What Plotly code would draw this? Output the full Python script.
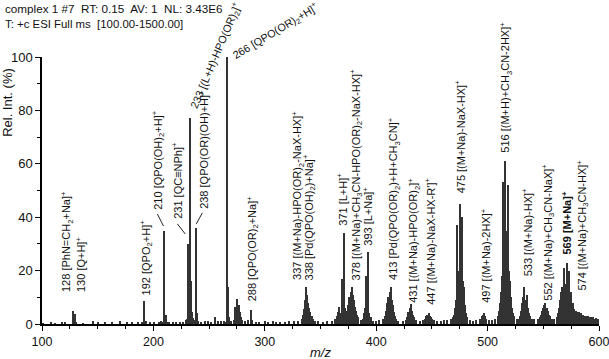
import plotly.graph_objects as go

# ---------------- data ----------------
mz = [101, 108, 112, 118, 121, 128, 129, 130, 131, 137, 146, 150, 157, 163, 170, 176, 181, 186, 190,
      192, 193, 197, 201, 205, 207, 208, 210, 211, 212, 214, 218, 220, 224, 227, 229, 230,
      231, 232, 233, 234, 235, 236, 237, 238, 239, 240, 243, 246, 249, 252, 255, 258, 261, 263, 264,
      266, 267, 268, 270, 272, 273, 274, 275, 276, 277, 278, 279, 280, 282, 285, 288, 289, 292, 295,
      300, 303, 307, 310, 314, 318, 322, 326, 330, 333, 334, 335, 336, 337, 338, 339, 340, 341, 342,
      343, 345, 348, 352, 356, 360, 363, 365, 366, 367, 368, 369, 370, 371, 372, 373, 374, 375, 376,
      377, 378, 379, 380, 381, 382, 383, 384, 386, 388, 389, 390, 391, 392, 393, 394, 395, 397, 400,
      403, 406, 408, 409, 410, 411, 412, 413, 414, 415, 416, 417, 418, 420, 424, 427, 428, 429, 430,
      431, 432, 433, 434, 436, 439, 442, 444, 445, 446, 447, 448, 449, 450, 452, 455, 458, 461, 464,
      467, 469, 470, 471, 472, 473, 474, 475, 476, 477, 478, 479, 480, 481, 482, 484, 487, 490, 493,
      495, 496, 497, 498, 499, 501, 504, 507, 509, 510, 511, 512, 513, 514, 515, 516, 517, 518, 519,
      520, 521, 522, 523, 524, 526, 528, 529, 530, 531, 532, 533, 534, 535, 536, 537, 538, 540, 542,
      545, 547, 548, 549, 550, 551, 552, 553, 554, 555, 556, 558, 560, 562, 563, 564, 565, 566, 567,
      568, 569, 570, 571, 572, 573, 574, 575, 576, 577, 578, 579, 580, 581, 582, 583, 584, 585, 586,
      587, 588, 589, 590, 591, 592, 593, 594, 595, 596, 597, 598, 599]
intensity = [0.3, 0.4, 0.3, 0.5, 0.4, 5.0, 1.0, 3.8, 0.8, 0.3, 1.3, 0.4, 0.4, 0.5, 1.1, 0.4, 0.5, 0.4, 0.6,
             8.7, 1.0, 0.5, 0.7, 0.8, 1.0, 0.8, 35, 3.5, 0.8, 0.7, 0.9, 0.8, 0.6, 0.9, 1.5, 2.0,
             30, 9, 77, 16, 4.5, 2.2, 1.5, 36, 4, 1.0, 0.9, 1.0, 1.1, 0.9, 2.7, 1.2, 1.3, 1.1, 0.9,
             100, 14, 2.5, 1.2, 1.5, 6.2, 5.5, 9.2, 6.5, 7.0, 4.5, 2.5, 1.6, 1.3, 1.5, 5.2, 1.5, 0.8, 0.9,
             1.0, 0.8, 1.1, 0.9, 0.8, 0.9, 1.0, 1.1, 1.2, 1.8, 3.5, 5.8, 9, 14, 11, 8, 6, 4.5, 3,
             2, 1.2, 1.0, 0.9, 1.1, 1.2, 2.0, 3.0, 4.5, 6.5, 4, 17, 9, 34, 6, 3.5, 5, 7, 10,
             12, 14, 11, 9, 6.5, 5, 3.5, 2.5, 1.5, 2, 4, 6, 18, 5, 27, 4, 2.5, 1.2, 1.0,
             1.4, 2, 3, 5, 8, 10, 12, 14, 9, 7, 4.5, 3, 2, 1.2, 1.0, 1.5, 2.5, 4.5, 6,
             7.5, 5, 3.5, 2.5, 1.5, 1.2, 1.4, 2, 3, 3.5, 4, 3, 2.5, 2, 1.5, 1.2, 1.3, 1.5, 1.5,
             2, 2.5, 3.5, 6, 9, 37, 20, 45, 25, 40, 16, 14, 7, 4, 2.5, 1.5, 1.3, 1.5, 2,
             3, 3.5, 4, 3, 2, 1.5, 1.5, 2, 3, 5, 8, 12, 18, 53, 30, 61, 35, 52, 20,
             16, 10, 6, 4, 3, 2, 2, 3, 5, 8, 10, 14, 9, 11, 6, 4, 3, 2, 1.8,
             2, 2.5, 3.5, 5, 6, 7, 8, 6, 5, 3.5, 3, 2, 2, 2.5, 4, 6, 9, 12, 14,
             11, 21, 15, 23, 14, 20, 11, 12, 7, 8, 5.5, 5, 4.5, 4, 4.5, 3.5, 4, 3, 3.5,
             3, 3, 2.5, 3, 2.5, 2.8, 2.5, 2.2, 2.5, 2, 2.2, 1.8, 2]

x_ticks = [100, 200, 300, 400, 500, 600]
y_ticks = [0, 20, 40, 60, 80, 100]

# peak labels: text, m/z position of text column, intensity at text start
label_texts = [
    "128 [PhN=CH<sub>2</sub>+Na]<sup>+</sup>",
    "130 [Q+H]<sup>+</sup>",
    "192 [QPO<sub>2</sub>+H]<sup>+</sup>",
    "210 [QPO(OH)<sub>2</sub>+H]<sup>+</sup>",
    "231 [QC\u2261NPh]<sup>+</sup>",
    "238 [QPO(OR)(OH)+H]<sup>+</sup>",
    "288 [QPO(OR)<sub>2</sub>+Na]<sup>+</sup>",
    "337 [(M+Na)-HPO(OR)<sub>2</sub>-NaX-HX]<sup>+</sup>",
    "338 [Pd(QPO(OH)<sub>2</sub>)+Na]<sup>+</sup>",
    "371 [L+H]<sup>+</sup>",
    "378 [(M+Na)+CH<sub>3</sub>CN-HPO(OR)<sub>2</sub>-NaX-HX]<sup>+</sup>",
    "393 [L+Na]<sup>+</sup>",
    "413 [Pd(QPO(OR)<sub>2</sub>)+H+CH<sub>3</sub>CN]<sup>+</sup>",
    "431 [(M+Na)-HPO(OR)<sub>2</sub>]<sup>+</sup>",
    "447 [(M+Na)-NaX-HX-R']<sup>+</sup>",
    "475 [(M+Na)-NaX-HX]<sup>+</sup>",
    "497 [(M+Na)-2HX]<sup>+</sup>",
    "516 [(M+H)+CH<sub>3</sub>CN-2HX]<sup>+</sup>",
    "533 [(M+Na)-HX]<sup>+</sup>",
    "552 [(M+Na)+CH<sub>3</sub>CN-NaX]<sup>+</sup>",
    "<b>569 [M+Na]<sup>+</sup></b>",
    "574 [(M+Na)+CH<sub>3</sub>CN-HX]<sup>+</sup>",
]
label_x = [121.9, 134.5, 193.7, 204.5, 221.5, 244.8, 288.9, 329.2, 340.0, 369.6, 382.2, 392.9,
           415.4, 433.3, 448.6, 475.5, 497.9, 516.7, 535.6, 554.5, 571.3, 584.8]
label_y = [11.2, 11.2, 10.1, 42.0, 38.6, 42.3, 7.9, 15.7, 15.7, 36.0, 15.7, 28.5,
           15.7, 7.1, 6.4, 48.3, 7.1, 63.3, 17.2, 7.9, 25.1, 11.6]

# slanted labels (left/bottom corner of the rotated box)
slant_texts = ["233 [(L+H)-HPO(OR)<sub>2</sub>]<sup>+</sup>", "266 [QPO(OR)<sub>2</sub>+H]<sup>+</sup>"]
slant_x = [227.5, 266.3]
slant_y = [78.9, 96.6]
slant_angle = [-67, -31]

# leader lines (m/z, intensity) start -> end
leader_x0 = [203.6, 221.5, 243.9]
leader_y0 = [41.2, 37.5, 41.6]
leader_x1 = [209.0, 228.6, 238.5]
leader_y1 = [36.7, 33.7, 37.5]

# ---------------- figure ----------------
FONT = "Arial, Liberation Sans, sans-serif"
fig = go.Figure()
fig.add_trace(go.Bar(x=mz, y=intensity, width=1.0,
                     marker=dict(color="#333333", line=dict(width=0)),
                     showlegend=False))

annotations = []
for t, xx, yy in zip(label_texts, label_x, label_y):
    annotations.append(dict(x=xx, y=yy, xref="x", yref="y", text=t, showarrow=False,
                            textangle=-90, xanchor="center", yanchor="bottom",
                            font=dict(family=FONT, size=11, color="#111")))
for t, xx, yy, ang in zip(slant_texts, slant_x, slant_y, slant_angle):
    annotations.append(dict(x=xx, y=yy / 100.0, xref="x", yref="paper", text=t, showarrow=False,
                            textangle=ang, xanchor="left", yanchor="bottom",
                            font=dict(family=FONT, size=10.8, color="#111")))

# header lines
annotations.append(dict(x=-0.07, y=1.183, xref="paper", yref="paper", xanchor="left", yanchor="middle",
                        text="complex 1 #7&nbsp; RT: 0.15&nbsp; AV: 1&nbsp; NL: 3.43E6", showarrow=False,
                        font=dict(family=FONT, size=11.7, color="#111")))
annotations.append(dict(x=-0.07, y=1.124, xref="paper", yref="paper", xanchor="left", yanchor="middle",
                        text="T: +c ESI Full ms&nbsp; [100.00-1500.00]", showarrow=False,
                        font=dict(family=FONT, size=11.4, color="#111")))
# axis titles
annotations.append(dict(x=-0.062, y=0.83, xref="paper", yref="paper", xanchor="center", yanchor="middle",
                        text="Rel. Int. (%)", textangle=-90, showarrow=False,
                        font=dict(family=FONT, size=13, color="#111")))
annotations.append(dict(x=0.5, y=-0.105, xref="paper", yref="paper", xanchor="center", yanchor="middle",
                        text="<i>m/z</i>", showarrow=False,
                        font=dict(family=FONT, size=13, color="#111")))

shapes = []
for a, b, c, d in zip(leader_x0, leader_y0, leader_x1, leader_y1):
    shapes.append(dict(type="line", xref="x", yref="y", x0=a, y0=b, x1=c, y1=d,
                       line=dict(color="#222", width=1)))

fig.update_layout(
    width=609, height=359,
    margin=dict(l=42, r=10, t=57, b=35, autoexpand=False),
    paper_bgcolor="white", plot_bgcolor="white",
    font=dict(family=FONT, size=13, color="#111"),
    annotations=annotations, shapes=shapes,
    bargap=0,
)
fig.update_xaxes(range=[100, 600], tickvals=x_ticks, ticks="outside", ticklen=5, tickwidth=1.2,
                 tickcolor="black", showline=True, linecolor="black", linewidth=1.5,
                 showgrid=False, zeroline=False, ticklabeloverflow="allow", automargin=False,
                 minor=dict(dtick=25, tick0=100, ticks="outside", ticklen=3, tickcolor="black", showgrid=False),
                 tickfont=dict(family=FONT, size=12.5))
fig.update_yaxes(range=[0, 100], tickvals=y_ticks, ticks="outside", ticklen=5, tickwidth=1.2,
                 tickcolor="black", showline=True, linecolor="black", linewidth=1.5,
                 showgrid=False, zeroline=False, automargin=False,
                 minor=dict(dtick=10, tick0=0, ticks="outside", ticklen=3, tickcolor="black", showgrid=False),
                 tickfont=dict(family=FONT, size=13))

fig.write_html("out.html", config={"displayModeBar": False},
               post_script="document.body.style.margin='0';document.body.style.overflow='hidden';")
